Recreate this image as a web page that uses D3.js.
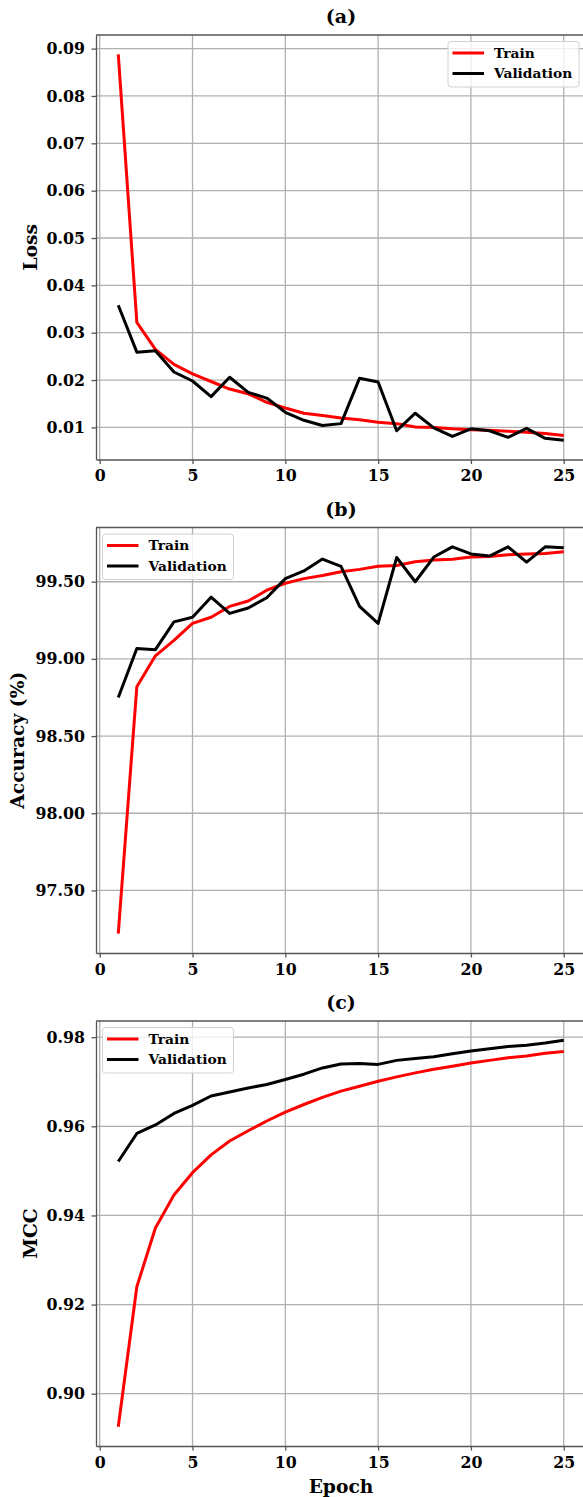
<!DOCTYPE html>
<html lang="en">
<head>
<meta charset="utf-8"/>
<title>Training curves</title>
<script src="https://d3js.org/d3.v7.min.js"></script>
<style>
  body { margin: 0; background: #fff; }
  svg text { font-family: "DejaVu Serif", serif; font-weight: bold; fill: #000; }
  .grid line { stroke: #b0b0b0; stroke-width: 1.3; }
  .axis path, .axis line { stroke: #555; stroke-width: 1.3; }
</style>
</head>
<body>
<svg id="chart" width="583" height="1497"></svg>
<script>
const epochs = d3.range(1, 26);

const lossTrain = [0.0888, 0.0322, 0.0265, 0.0233, 0.0213, 0.0197, 0.0181, 0.0171, 0.0153, 0.0141,
  0.0130, 0.0125, 0.0120, 0.0116, 0.0111, 0.0108, 0.0101, 0.0100, 0.0097, 0.0095,
  0.0094, 0.0092, 0.0090, 0.0087, 0.0083];
const lossVal = [0.0358, 0.0259, 0.0262, 0.0217, 0.0198, 0.0165, 0.0206, 0.0174, 0.0162, 0.0132,
  0.0115, 0.0104, 0.0108, 0.0204, 0.0196, 0.0093, 0.0130, 0.0099, 0.0081, 0.0097,
  0.0093, 0.0079, 0.0098, 0.0077, 0.0073];

const accTrain = [97.22, 98.82, 99.02, 99.12, 99.23, 99.27, 99.34, 99.375, 99.445, 99.49,
  99.52, 99.54, 99.565, 99.58, 99.60, 99.605, 99.63, 99.64, 99.645, 99.66,
  99.664, 99.675, 99.68, 99.683, 99.694];
const accVal = [98.75, 99.067, 99.06, 99.24, 99.27, 99.40, 99.295, 99.33, 99.396, 99.52,
  99.57, 99.647, 99.60, 99.34, 99.23, 99.657, 99.50, 99.66, 99.726, 99.68,
  99.666, 99.726, 99.627, 99.726, 99.72];

const mccTrain = [0.8926, 0.9240, 0.9372, 0.9446, 0.9496, 0.9536, 0.9567, 0.9590, 0.9612, 0.9632,
  0.9649, 0.9665, 0.9679, 0.9690, 0.9701, 0.9711, 0.9720, 0.9728, 0.9735, 0.9742,
  0.9748, 0.9754, 0.9758, 0.9764, 0.9768];
const mccVal = [0.9521, 0.9584, 0.9603, 0.9629, 0.9647, 0.9668, 0.9677, 0.9686, 0.9694, 0.9705,
  0.9717, 0.9731, 0.9740, 0.9741, 0.9739, 0.9748, 0.9752, 0.9756, 0.9763, 0.9769,
  0.9774, 0.9779, 0.9782, 0.9787, 0.9793];

const xTicks = [0, 5, 10, 15, 20, 25];
const lossTicks = [0.01, 0.02, 0.03, 0.04, 0.05, 0.06, 0.07, 0.08, 0.09];
const accTicks = [97.5, 98.0, 98.5, 99.0, 99.5];
const mccTicks = [0.90, 0.92, 0.94, 0.96, 0.98];

const seriesNames = ["Train", "Validation"];
const seriesColors = ["#ff0000", "#000000"];

const svg = d3.select("#chart");
const left = 96, right = 586;
const x = d3.scaleLinear().domain([-0.2, 26.2]).range([left, right]);

const panels = [
  { title: "(a)", ylabel: "Loss", top: 35, bottom: 459.5, train: lossTrain, val: lossVal,
    ticks: lossTicks, legend: "right", labelX: 36.5 },
  { title: "(b)", ylabel: "Accuracy (%)", top: 527.5, bottom: 953, train: accTrain, val: accVal,
    ticks: accTicks, legend: "left", labelX: 24 },
  { title: "(c)", ylabel: "MCC", top: 1021, bottom: 1446, train: mccTrain, val: mccVal,
    ticks: mccTicks, legend: "left", labelX: 36.5, xlabel: "Epoch" }
];

panels.forEach(function(p) {
  const all = p.train.concat(p.val);
  const lo = d3.min(all), hi = d3.max(all), pad = (hi - lo) * 0.05;
  const y = d3.scaleLinear().domain([lo - pad, hi + pad]).range([p.bottom, p.top]);
  const g = svg.append("g");

  // grid
  const grid = g.append("g").attr("class", "grid");
  grid.selectAll(".gx").data(xTicks).enter().append("line")
    .attr("x1", d => x(d)).attr("x2", d => x(d))
    .attr("y1", p.top).attr("y2", p.bottom);
  grid.selectAll(".gy").data(p.ticks).enter().append("line")
    .attr("x1", left).attr("x2", right)
    .attr("y1", d => y(d)).attr("y2", d => y(d));

  // axes
  const xa = g.append("g").attr("class", "axis")
    .attr("transform", `translate(0,${p.bottom})`)
    .call(d3.axisBottom(x).tickValues(xTicks).tickSize(4.5).tickPadding(6).tickSizeOuter(0));
  xa.selectAll("text").style("font-size", "15.8px");
  const ya = g.append("g").attr("class", "axis")
    .attr("transform", `translate(${left},0)`)
    .call(d3.axisLeft(y).tickValues(p.ticks).tickFormat(d3.format(".2f")).tickSize(4.5).tickPadding(6.5).tickSizeOuter(0));
  ya.selectAll("text").style("font-size", "15.8px");
  g.append("line")
    .attr("x1", left).attr("x2", right).attr("y1", p.top).attr("y2", p.top)
    .attr("stroke", "#555").attr("stroke-width", 1.3);

  // lines
  const line = d3.line().x((d, i) => x(epochs[i])).y(d => y(d));
  [p.train, p.val].forEach(function(s, i) {
    g.append("path").datum(s)
      .attr("fill", "none")
      .attr("stroke", seriesColors[i])
      .attr("stroke-width", 3)
      .attr("stroke-linejoin", "round")
      .attr("d", line);
  });

  // title and labels
  g.append("text").attr("x", (left + right) / 2).attr("y", p.top - 11.7)
    .attr("text-anchor", "middle").style("font-size", "19px").text(p.title);
  g.append("text")
    .attr("transform", `translate(${p.labelX},${(p.top + p.bottom) / 2}) rotate(-90)`)
    .attr("text-anchor", "middle")
    .style("font-size", "18.7px").text(p.ylabel);
  if (p.xlabel) {
    g.append("text").attr("x", (left + right) / 2).attr("y", p.bottom + 46.7)
      .attr("text-anchor", "middle").style("font-size", "18.7px").text(p.xlabel);
  }

  // legend
  const lw = 131, lh = 45.5;
  const lx = p.legend === "right" ? 448 : left + 6.5;
  const ly = p.top + 6.5;
  const leg = g.append("g").attr("transform", `translate(${lx},${ly})`);
  leg.append("rect").attr("width", lw).attr("height", lh).attr("rx", 3)
    .attr("fill", "#fff").attr("fill-opacity", 0.8)
    .attr("stroke", "#d0d0d0").attr("stroke-width", 1);
  seriesNames.forEach(function(name, i) {
    const yy = 11.5 + i * 20.5;
    leg.append("line").attr("x1", 4.5).attr("x2", 36).attr("y1", yy).attr("y2", yy)
      .attr("stroke", seriesColors[i]).attr("stroke-width", 3);
    leg.append("text").attr("x", 46).attr("y", yy).attr("dy", "0.35em")
      .style("font-size", "13.8px").text(name);
  });
});
</script>
</body>
</html>
